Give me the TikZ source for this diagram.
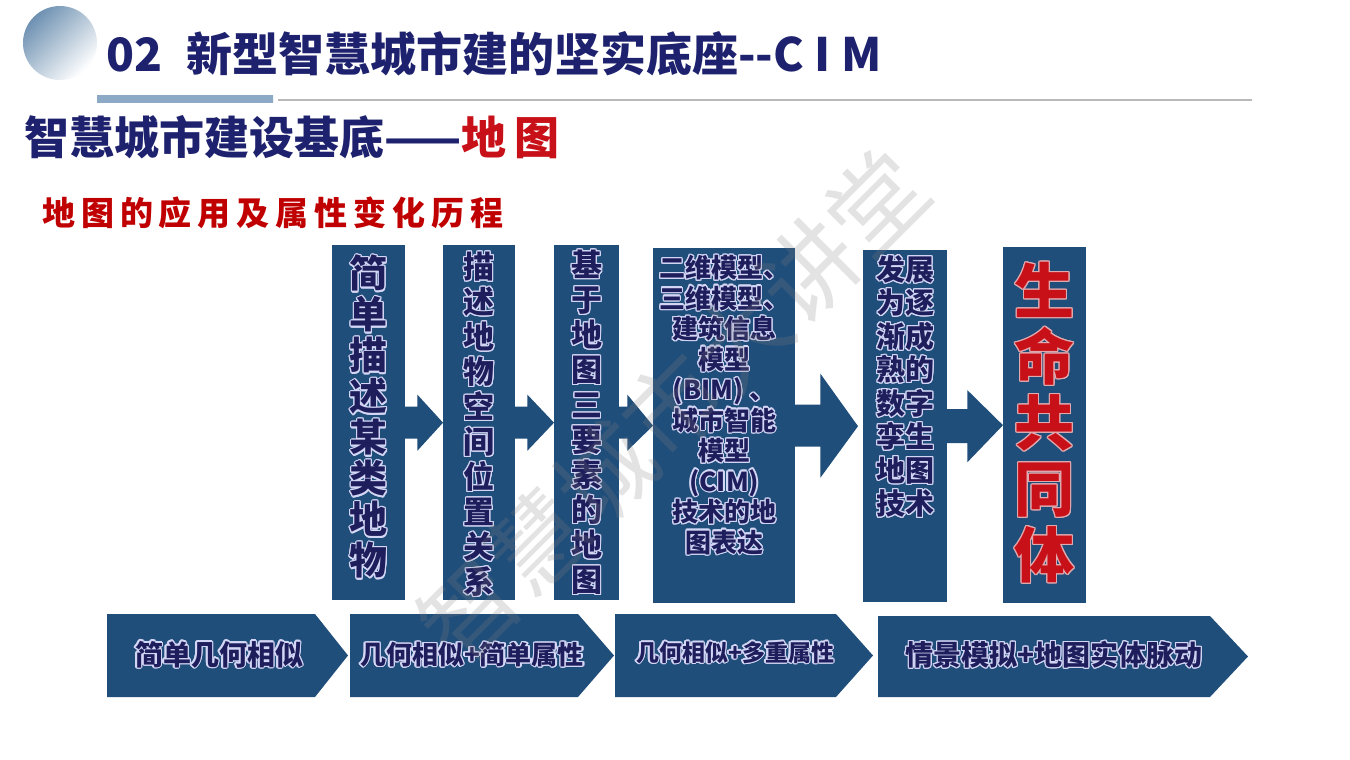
\documentclass[tikz,border=0pt]{standalone}
\usepackage{fontspec}
\setmainfont{Noto Sans CJK SC}
\usepackage[copies]{contour}
\usetikzlibrary{calc}
\definecolor{boxblue}{RGB}{32,78,122}
\definecolor{titlenavy}{RGB}{30,34,110}
\definecolor{titlered}{RGB}{200,16,24}
\definecolor{subred}{RGB}{192,0,0}
\definecolor{boxink}{RGB}{30,30,92}
\definecolor{boxrim}{RGB}{212,214,245}
\definecolor{liferim}{RGB}{225,170,175}
\definecolor{ballblue}{RGB}{110,145,178}
\definecolor{bardark}{RGB}{60,100,140}
\definecolor{barlight}{RGB}{140,170,198}
\contourlength{1.2pt}
\newcommand{\otxt}[1]{\contour{boxrim}{#1}}
\newcommand{\rtxt}[1]{\contour{liferim}{#1}}
\tikzset{
  stage/.style={fill=boxblue, inner sep=0pt, anchor=north west},
  stagetext/.style={text=boxink, align=center, inner sep=0pt, anchor=north},
  phase/.style={fill=boxblue},
  phasetext/.style={text=boxink, inner sep=0pt}
}
\begin{document}
\begin{tikzpicture}[x=1pt,y=1pt,yscale=-1]
\useasboundingbox (0,0) rectangle (1350,760);
\fill[white] (0,0) rectangle (1350,760);

%Shape: Circle
\shade[top color=ballblue, bottom color=white, shading angle=45] (60,43) circle (37);
%Shape: Bar
\shade[left color=barlight, middle color=bardark, right color=barlight] (97,96) rectangle (273,102);
%Straight Lines
\draw[gray!55, line width=1.2] (278,100) -- (1252,100);

% Text Node
\node[anchor=west, inner sep=0pt, text=titlenavy, font=\fontsize{46}{46}\selectfont\bfseries] (title) at (106,54) {02\hspace{24pt}新型智慧城市建的坚实底座-{}-C I M};
% Text Node
\node[anchor=west, inner sep=0pt, text=titlenavy, font=\fontsize{45}{45}\selectfont\bfseries] (head) at (24,137) {智慧城市建设基底——\textcolor{titlered}{地\hspace{8pt}图}};
% Text Node
\node[anchor=west, inner sep=0pt, text=subred, font=\fontsize{33}{33}\selectfont\bfseries\addfontfeature{LetterSpace=18}] (sub) at (42,213) {地图的应用及属性变化历程};

%Shape: Rectangle
\node[stage, minimum width=73, minimum height=355] (b1) at (332,245) {};
\node[stage, minimum width=72, minimum height=355] (b2) at (443,245) {};
\node[stage, minimum width=65, minimum height=355] (b3) at (554,245) {};
\node[stage, minimum width=142, minimum height=355] (b4) at (653,248) {};
\node[stage, minimum width=84, minimum height=352] (b5) at (863,250) {};
\node[stage, minimum width=83, minimum height=356] (b6) at (1003,247) {};

%Shape: Block Arrows
\fill[boxblue] ($(b1.east)+(-1,-16)$) -- ($(b1.east)+(12,-16)$) -- ($(b1.east)+(12,-28)$) -- (b2.west) -- ($(b1.east)+(12,28)$) -- ($(b1.east)+(12,16)$) -- ($(b1.east)+(-1,16)$) -- cycle;
\fill[boxblue] ($(b2.east)+(-1,-16)$) -- ($(b2.east)+(12,-16)$) -- ($(b2.east)+(12,-28)$) -- (b3.west) -- ($(b2.east)+(12,28)$) -- ($(b2.east)+(12,16)$) -- ($(b2.east)+(-1,16)$) -- cycle;
\fill[boxblue] ($(b3.east)+(-1,-16)$) -- ($(b3.east)+(8,-16)$) -- ($(b3.east)+(8,-28)$) -- (b4.west) -- ($(b3.east)+(8,28)$) -- ($(b3.east)+(8,16)$) -- ($(b3.east)+(-1,16)$) -- cycle;
\fill[boxblue] ($(b4.east)+(-1,-21)$) -- ($(b4.east)+(25,-21)$) -- ($(b4.east)+(25,-52)$) -- ($(b5.west)+(-5,0)$) -- ($(b4.east)+(25,52)$) -- ($(b4.east)+(25,21)$) -- ($(b4.east)+(-1,21)$) -- cycle;
\fill[boxblue] ($(b5.east)+(-1,-17)$) -- ($(b5.east)+(20,-17)$) -- ($(b5.east)+(20,-36)$) -- (b6.west) -- ($(b5.east)+(20,36)$) -- ($(b5.east)+(20,17)$) -- ($(b5.east)+(-1,17)$) -- cycle;

% Text Node
\node[stagetext, font=\fontsize{38}{41}\selectfont\bfseries] (t1) at ($(b1.north)+(0,10)$) {\otxt{简}\\\otxt{单}\\\otxt{描}\\\otxt{述}\\\otxt{某}\\\otxt{类}\\\otxt{地}\\\otxt{物}};
% Text Node
\node[stagetext, font=\fontsize{31}{35}\selectfont\bfseries] (t2) at ($(b2.north)+(0,7)$) {\otxt{描}\\\otxt{述}\\\otxt{地}\\\otxt{物}\\\otxt{空}\\\otxt{间}\\\otxt{位}\\\otxt{置}\\\otxt{关}\\\otxt{系}};
% Text Node
\node[stagetext, font=\fontsize{31}{35}\selectfont\bfseries] (t3) at ($(b3.north)+(0,5)$) {\otxt{基}\\\otxt{于}\\\otxt{地}\\\otxt{图}\\\otxt{三}\\\otxt{要}\\\otxt{素}\\\otxt{的}\\\otxt{地}\\\otxt{图}};
% Text Node
\node[stagetext, font=\fontsize{26}{30.5}\selectfont\bfseries] (t4) at ($(b4.north)+(0,7)$) {\otxt{二维模型、}\\\otxt{三维模型、}\\\otxt{建筑信息}\\\otxt{模型}\\\otxt{(BIM) 、}\\\otxt{城市智能}\\\otxt{模型}\\\otxt{(CIM)}\\\otxt{技术的地}\\\otxt{图表达}};
% Text Node
\node[stagetext, font=\fontsize{29}{33.5}\selectfont\bfseries] (t5) at ($(b5.north)+(0,5)$) {\otxt{发展}\\\otxt{为逐}\\\otxt{渐成}\\\otxt{熟的}\\\otxt{数字}\\\otxt{孪生}\\\otxt{地图}\\\otxt{技术}};
% Text Node
\node[stagetext, text=titlered, font=\fontsize{60}{66}\selectfont\bfseries] (t6) at ($(b6.north)+(0,15)$) {\rtxt{生}\\\rtxt{命}\\\rtxt{共}\\\rtxt{同}\\\rtxt{体}};

%Shape: Chevrons
\fill[phase] (107,614) -- (315,614) -- (348,655.5) -- (315,697) -- (107,697) -- cycle;
\fill[phase] (350,614) -- (578,614) -- (614,655.5) -- (578,697) -- (350,697) -- cycle;
\fill[phase] (615,614) -- (836,614) -- (873,655.5) -- (836,697) -- (615,697) -- cycle;
\fill[phase] (878,616) -- (1210,616) -- (1248,656.5) -- (1210,697) -- (878,697) -- cycle;

% Text Node
\node[phasetext, font=\fontsize{28}{28}\selectfont\bfseries] (p1) at (219,655) {\otxt{简单几何相似}};
% Text Node
\node[phasetext, font=\fontsize{26}{26}\selectfont\bfseries] (p2) at (472,655) {\otxt{几何相似+简单属性}};
% Text Node
\node[phasetext, font=\fontsize{23}{23}\selectfont\bfseries] (p3) at (735,653) {\otxt{几何相似+多重属性}};
% Text Node
\node[phasetext, font=\fontsize{28}{28}\selectfont\bfseries] (p4) at (1054,655) {\otxt{情景模拟+地图实体脉动}};

% Text Node
\node[rotate=45, inner sep=0pt, text=gray, opacity=0.22, font=\fontsize{96}{96}\selectfont] (mark) at (673,406) {智慧城市大讲堂};
\end{tikzpicture}
\end{document}
